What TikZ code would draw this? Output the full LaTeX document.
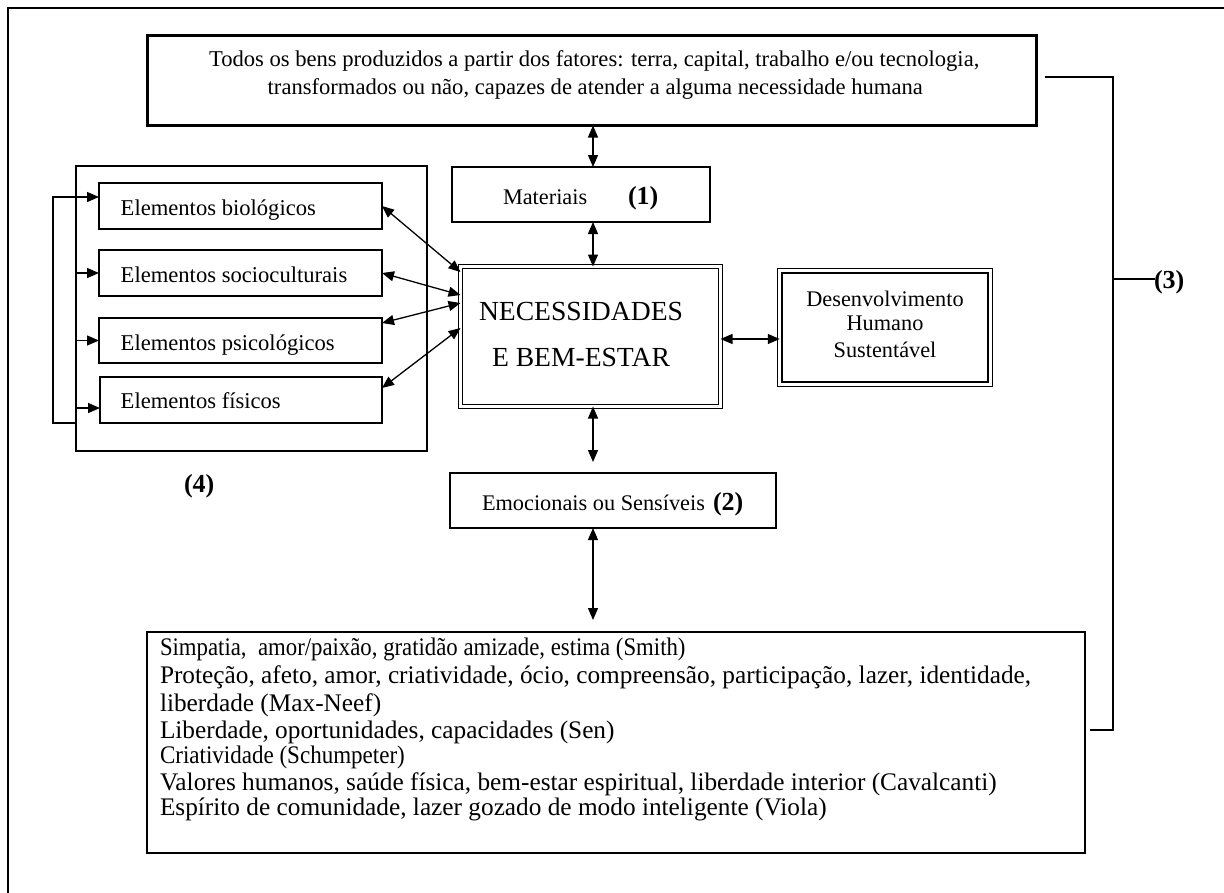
\documentclass[tikz,border=0pt]{standalone}
\usepackage{fontspec}
\usepackage{graphicx}
\setmainfont{Liberation Serif}
\usetikzlibrary{arrows.meta,calc}
\begin{document}
\begin{tikzpicture}[x=1pt,y=-1pt,
  box/.style={draw, inner sep=0pt, outer sep=0pt},
  dbox/.style={draw, double, double distance=2.6pt, line width=1.3pt, inner sep=0pt, outer sep=0pt},
  lbl/.style={inner sep=0pt, outer sep=0pt, anchor=base west},
  clbl/.style={inner sep=0pt, outer sep=0pt, anchor=base},
  bi/.style={{Triangle[length=12pt,width=10pt]}-{Triangle[length=12pt,width=10pt]}, line width=1.3pt},
  one/.style={-{Triangle[length=12pt,width=10pt]}, line width=1.3pt},
  wire/.style={line width=1.4pt},
  txt/.style={font=\fontsize{22.6}{27}\selectfont},
  big/.style={font=\fontsize{25.3}{29}\selectfont},
  num/.style={font=\fontsize{26}{30}\selectfont\bfseries},
]
\useasboundingbox (0,0) rectangle (1224,892);
\fill[white] (0,0) rectangle (1224,892);
\begin{scope}
  \clip (0,0) rectangle (1224,892);
  \draw[line width=1.3pt] (8,8) rectangle (1260,930);
\end{scope}

% top box
\node[box, line width=2.3pt, minimum width=889pt, minimum height=90pt] (top) at (592,80.5) {};
\node[lbl, txt] (top1) at (209,66.7) {Todos os bens produzidos a partir dos fatores: terra, capital, trabalho e/ou tecnologia,};
\node[lbl, txt] (top2) at (267.7,94.3) {transformados ou não, capazes de atender a alguma necessidade humana};

% left group
\node[box, line width=1.6pt, minimum width=351pt, minimum height=285pt] (grp) at (251.5,308.5) {};
\node[box, line width=2.8pt, minimum width=283pt, minimum height=46pt] (bio) at (240.5,206) {};
\node[box, line width=2.8pt, minimum width=283pt, minimum height=46pt] (soc) at (240.5,273) {};
\node[box, line width=2.8pt, minimum width=283pt, minimum height=45pt] (psi) at (240.5,340.5) {};
\node[box, line width=1.2pt, minimum width=282pt, minimum height=46pt] (fis) at (241,400) {};
\node[lbl, txt] (biol) at (120.7,215) {Elementos biológicos};
\node[lbl, txt] (socl) at (120.7,282.3) {Elementos socioculturais};
\node[lbl, txt] (psil) at (120.7,350) {Elementos psicológicos};
\node[lbl, txt] (fisl) at (120.7,408.3) {Elementos físicos};

% left bracket
\coordinate (lb1) at (76,197);
\coordinate (lb2) at (53,197);
\coordinate (lb3) at (53,423);
\coordinate (lb4) at (76,423);
\draw[wire] (lb1) -- (lb2) -- (lb3) -- (lb4);
\draw[one] (lb1) -- (lb1 -| bio.west);
\draw[one] (grp.west |- soc.west) -- (soc.west);
\draw[one] (grp.west |- psi.west) -- (psi.west);
\coordinate (fa) at ($(fis.west)+(0,8)$);
\draw[one] (fa -| grp.west) -- (fa);

% central boxes
\node[box, line width=2.8pt, minimum width=258pt, minimum height=55pt] (mat) at (581,194.5) {};
\node[lbl, font=\fontsize{22.3}{27}\selectfont] (matl) at (503,204) {Materiais};
\node[lbl, num] (matn) at (628,204.5) {(1)};

\node[dbox, minimum width=260pt, minimum height=140pt] (nec) at (590.5,336.5) {};
\node[clbl, font=\fontsize{27.6}{33}\selectfont] (nec1) at (581,320) {NECESSIDADES};
\node[clbl, font=\fontsize{27.6}{33}\selectfont] (nec2) at (581,366) {E BEM-ESTAR};

\node[dbox, double distance=3pt, minimum width=210.5pt, minimum height=113.4pt] (des) at (885,327.5) {};
\node[clbl, font=\fontsize{22.3}{26}\selectfont] (des1) at (885,306) {Desenvolvimento};
\node[clbl, font=\fontsize{22.3}{26}\selectfont] (des2) at (885,330.7) {Humano};
\node[clbl, font=\fontsize{22.3}{26}\selectfont] (des3) at (885,357.3) {Sustentável};

\node[box, line width=2.6pt, minimum width=326pt, minimum height=55pt] (emo) at (613,500.5) {};
\node[lbl, font=\fontsize{22.3}{27}\selectfont] (emol) at (482,510) {Emocionais ou Sensíveis};
\node[lbl, num] (emon) at (713,510.5) {(2)};

\node[lbl, num] (n4) at (184,492) {(4)};

% bottom box
\node[box, line width=2.2pt, minimum width=938pt, minimum height=221pt] (bot) at (616,742.5) {};
\node[lbl, big] (s1) at (160,655) {\scalebox{0.9}[1]{Simpatia,\ \ amor/paixão, gratidão amizade, estima (Smith)}};
\node[lbl, big] (s2) at (160,683) {Proteção, afeto, amor, criatividade, ócio, compreensão, participação, lazer, identidade,};
\node[lbl, big] (s3) at (160,711) {liberdade (Max-Neef)};
\node[lbl, big] (s4) at (160,738) {Liberdade, oportunidades, capacidades (Sen)};
\node[lbl, big] (s5) at (160,763) {\scalebox{0.91}[1]{Criatividade (Schumpeter)}};
\node[lbl, big] (s6) at (160,790) {Valores humanos, saúde física, bem-estar espiritual, liberdade interior (Cavalcanti)};
\node[lbl, big] (s7) at (160,815) {Espírito de comunidade, lazer gozado de modo inteligente (Viola)};

% vertical arrows
\coordinate (vx) at ($(nec.north)+(2.5,0)$);
\draw[bi] (vx |- top.south) -- (vx |- mat.north);
\draw[bi] (vx |- mat.south) -- (vx);
\coordinate (e1) at ($(vx |- emo.north)+(0,-11)$);
\draw[bi] (vx |- nec.south) -- (e1);
\coordinate (e2) at ($(vx |- bot.north)+(0,-12)$);
\draw[bi] (vx |- emo.south) -- (e2);

% horizontal arrow to Desenvolvimento
\coordinate (hy) at ($(nec.east)+(0,2.5)$);
\draw[bi] (hy) -- (hy -| des.west);

% diagonal arrows
\draw[bi] (bio.east) -- ($(nec.north west)+(0,5.5)$);
\draw[bi] (soc.east) -- ($(nec.north west)+(0,28.5)$);
\draw[bi] ($(psi.north east)+(0,5)$) -- ($(nec.north west)+(0,36.5)$);
\draw[bi] ($(fis.north east)+(0,11)$) -- ($(nec.north west)+(0,61.5)$);

% right bracket (3)
\coordinate (r1) at (1045,77);
\coordinate (r2) at (1113,77);
\coordinate (r3) at (1113,730);
\coordinate (r4) at (1090,730);
\coordinate (rm) at (1113,279);
\coordinate (rm2) at (1155,279);
\draw[wire] (r1) -- (r2) -- (r3) -- (r4);
\draw[wire] (rm) -- (rm2);
\node[lbl, num] (n3) at (1154,288) {(3)};
\end{tikzpicture}
\end{document}
